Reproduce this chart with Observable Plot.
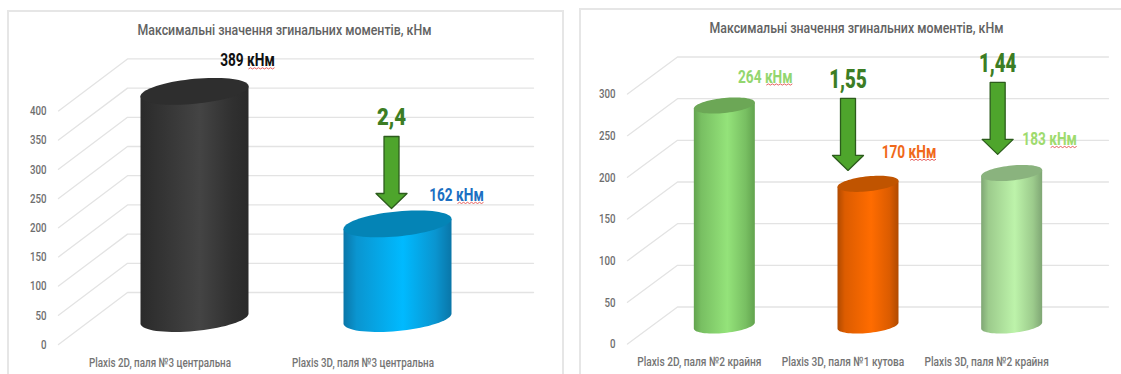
<!DOCTYPE html>
<html lang="uk">
<head>
<meta charset="utf-8">
<script src="https://cdn.jsdelivr.net/npm/d3@7"></script>
<script src="https://cdn.jsdelivr.net/npm/@observablehq/plot@0.6"></script>
<style>
  html, body { margin: 0; padding: 0; background: #fff; }
  #page { position: relative; width: 1121px; height: 374px; overflow: hidden; }
  .frame { position: absolute; box-sizing: border-box; border: 2px solid #e6e6e6; background: #fff; }
  .panel { position: absolute; top: 0; }
  .panel svg { display: block; overflow: visible; }
  .title { position: absolute; white-space: nowrap; transform-origin: 50% 50%;
           font: 500 15.5px Roboto, sans-serif; color: #626262; }
</style>
</head>
<body>
<div id="page"></div>
<script>
const chartTitle = "Максимальні значення згинальних моментів, кНм";
const unit = "кНм";

// Central pile comparison
const centralCategories = ["Plaxis 2D, паля №3 центральна", "Plaxis 3D, паля №3 центральна"];
const centralValues = [389, 162];
const centralTicks = [0, 50, 100, 150, 200, 250, 300, 350, 400];
const centralRatios = [null, "2,4"];

// Edge and corner pile comparison
const edgeCategories = ["Plaxis 2D, паля №2 крайня", "Plaxis 3D, паля №1 кутова", "Plaxis 3D, паля №2 крайня"];
const edgeValues = [264, 170, 183];
const edgeTicks = [0, 50, 100, 150, 200, 250, 300];
const edgeRatios = [null, "1,55", "1,44"];

const green = {fill: "#4ea52c", stroke: "#2c5c1c", text: "#3c7d24"};
const font = "Roboto, sans-serif";
const narrow = 0.72; // horizontal squeeze that gives the labels their condensed look
const page = document.getElementById("page");

// Tags a text mark with its own horizontal squeeze factor
const squeezed = k => (index, scales, vals, dims, ctx, next) => {
  const g = next(index, scales, vals, dims, ctx);
  g.setAttribute("data-k", k);
  return g;
};

function drawPanel(o) {
  const {categories, values, ticks, ratios} = o;
  const xPerPx = (o.xDomain[1] - o.xDomain[0]) / (o.xRange[1] - o.xRange[0]);
  const yPerPx = (o.yDomain[1] - o.yDomain[0]) / (o.yRange[0] - o.yRange[1]);
  const centre = i => i + 0.5 + o.depthX / 2;
  const base = o.depthY / 2;

  // Oblique floor and back wall lines, one polyline for each tick
  const grid = ticks.flatMap(t => [
    {t, x: 0, y: t},
    {t, x: o.depthX, y: t + o.depthY},
    {t, x: o.xDomain[1] + o.depthX, y: t + o.depthY}
  ]);

  const a = o.barHalfPx * xPerPx, s = o.skewPx * yPerPx, b = o.squashPx * yPerPx;
  const ellipse = (cx, cy, t) => ({x: cx + a * Math.cos(t), y: cy + s * Math.cos(t) + b * Math.sin(t)});
  const angles = d3.range(0, 73).map(k => k * Math.PI / 36);
  const lowerArc = d3.range(0, 37).map(k => Math.PI + k * Math.PI / 36);

  const defs = () => {
    const el = d3.create("svg:defs");
    o.colors.forEach((c, i) => {
      const g = el.append("linearGradient").attr("id", `${o.id}-body-${i}`).attr("x1", 0).attr("x2", 1).attr("y1", 0).attr("y2", 0);
      [[0, c.edge], [0.12, c.edge2], [0.55, c.mid], [0.85, c.edge2], [1, c.edge]].forEach(([p, col]) =>
        g.append("stop").attr("offset", p).attr("stop-color", col));
    });
    return el.node();
  };

  const barMarks = values.flatMap((v, i) => {
    const cx = centre(i);
    const bottom = lowerArc.map(t => ellipse(cx, base, t));
    const top = angles.map(t => ellipse(cx, base + v, t));
    const body = [ellipse(cx, base + v, Math.PI), ...bottom, ellipse(cx, base + v, 0)];
    return [
      Plot.line(body, {x: "x", y: "y", fill: `url(#${o.id}-body-${i})`, stroke: "none"}),
      Plot.line(top, {x: "x", y: "y", fill: o.colors[i].top, stroke: "none"})
    ];
  });

  // Down arrows pointing at the reduced bars, with the reduction factor above
  const arrowMarks = ratios.flatMap((r, i) => {
    if (!r) return [];
    const {dxPx, tipPx} = o.arrows[i];
    const ax = centre(i) + dxPx * xPerPx;
    const tip = base + values[i] + tipPx * yPerPx;
    const shaft = 7.5 * xPerPx, head = 15.5 * xPerPx;
    const pts = [
      [-shaft, 72], [shaft, 72], [shaft, 15], [head, 15], [0, 0], [-head, 15], [-shaft, 15], [-shaft, 72]
    ].map(([dx, dy]) => ({x: ax + dx, y: tip + dy * yPerPx}));
    return [
      Plot.line(pts, {x: "x", y: "y", fill: green.fill, stroke: green.stroke, strokeWidth: 1.3}),
      Plot.text([r], {
        x: ax, y: tip + 72 * yPerPx, dy: o.ratioDy, text: d => d, fill: green.text,
        fontSize: o.ratioSize, fontWeight: 900, fontFamily: font,
        render: squeezed(o.ratioK)
      })
    ];
  });

  const labelled = values.map((v, i) => ({v, i, ...o.labels[i]}));
  const svg = Plot.plot({
    width: o.width, height: 374, marginLeft: o.axisRight, marginRight: 0, marginTop: 0, marginBottom: 0,
    style: {background: "transparent", fontFamily: font},
    x: {type: "linear", domain: o.xDomain, range: o.xRange, axis: null},
    y: {type: "linear", domain: o.yDomain, range: o.yRange, label: null},
    marks: [
      defs,
      Plot.line(grid, {x: "x", y: "y", z: "t", stroke: "#e3e3e3", strokeWidth: 1.3}),
      Plot.axisY({ticks, tickSize: 0, tickPadding: 0, label: null, fontSize: o.tickSize, fontWeight: 500, fill: "#6e6e6e"}),
      ...barMarks,
      ...arrowMarks,
      Plot.text(categories, {
        x: (d, i) => i + 0.5, y: () => 0, dy: 18, text: d => d,
        fontSize: o.catSize, fontWeight: 500, fill: "#747474", fontFamily: font,
        render: squeezed(o.catK)
      }),
      Plot.text(labelled, {
        x: d => centre(d.i), y: d => base + d.v, text: d => `${d.v} ${unit}`,
        fontSize: 19, fontWeight: 700, fontFamily: font,
        fill: d => d.color,
        render(index, scales, vals, dims, ctx, next) {
          const g = next(index, scales, vals, dims, ctx);
          d3.select(g).selectAll("text").each(function(_, k) {
            const d = labelled[index[k]];
            const px = scales.x(centre(d.i)) + d.dx, py = scales.y(base + d.v) + d.dy;
            d3.select(this).attr("transform", `translate(${px},${py})`);
            // Thin wavy proofing underline below the unit
            const wave = d3.range(0, 14).map(n => `${n ? "L" : "M"}${n * 2},${n % 2 ? -0.6 : 0.6}`).join("");
            d3.select(g).append("path").attr("d", wave).attr("fill", "none")
              .attr("stroke", "#e2504f").attr("stroke-width", 0.9)
              .attr("transform", `translate(${px + 1},${py + 8})`);
          });
          return g;
        }
      })
    ]
  });
  const holder = document.createElement("div");
  holder.className = "panel";
  holder.style.left = o.left + "px";
  holder.appendChild(svg);
  page.appendChild(holder);
  svg.querySelectorAll("text").forEach(t => {
    const host = t.closest("[data-k]");
    const k = host ? +host.getAttribute("data-k") : narrow;
    const tr = t.getAttribute("transform") || "";
    t.setAttribute("transform", `${tr} scale(${k},1)`);
  });
}

function addFrame(left, top, width, height, cx, cy) {
  const f = document.createElement("div");
  f.className = "frame";
  Object.assign(f.style, {left: left + "px", top: top + "px", width: width + "px", height: height + "px"});
  page.appendChild(f);
  const t = document.createElement("div");
  t.className = "title";
  t.textContent = chartTitle;
  page.appendChild(t);
  const w = t.offsetWidth, h = t.offsetHeight;
  Object.assign(t.style, {left: cx - w / 2 + "px", top: cy - h / 2 + "px", transform: `scaleX(${294 / w})`});
}

addFrame(7, 10, 557, 380, 284, 30);
addFrame(579, 8, 560, 380, 856, 28);

drawPanel({
  id: "central", left: 0, width: 575, axisRight: 46,
  categories: centralCategories, values: centralValues, ticks: centralTicks, ratios: centralRatios,
  xDomain: [0, 2], xRange: [58, 464], yDomain: [0, 400], yRange: [344, 110.4],
  depthX: 0.34, depthY: 89, barHalfPx: 54, skewPx: 5, squashPx: 12.5,
  tickSize: 13.5, catSize: 13, catK: 0.756, ratioSize: 24, ratioK: 0.85, ratioDy: -19,
  arrows: {1: {dxPx: -6, tipPx: 15.4}},
  colors: [
    {edge: "#2a2a2a", edge2: "#303030", mid: "#444444", top: "#2e2e2e"},
    {edge: "#0a76a8", edge2: "#0a95d0", mid: "#00baff", top: "#0484b6"}
  ],
  labels: [
    {dx: 53, dy: -31, color: "#111111"},
    {dx: 59, dy: -29, color: "#1b6fc2"}
  ]
});

drawPanel({
  id: "edge", left: 570, width: 551, axisRight: 45,
  categories: edgeCategories, values: edgeValues, ticks: edgeTicks, ratios: edgeRatios,
  xDomain: [0, 3], xRange: [57, 488], yDomain: [0, 300], yRange: [343.5, 93.5],
  depthX: 0.348, depthY: 44.4, barHalfPx: 30.5, skewPx: 3, squashPx: 7.5,
  tickSize: 13.5, catSize: 13, catK: 0.78, ratioSize: 26, ratioK: 0.72, ratioDy: -19,
  arrows: {1: {dxPx: -20, tipPx: 13.4}, 2: {dxPx: -14, tipPx: 18.6}},
  colors: [
    {edge: "#62a34e", edge2: "#78bf62", mid: "#94e37a", top: "#6ca756"},
    {edge: "#b04a00", edge2: "#dc5c00", mid: "#ff6c00", top: "#c05400"},
    {edge: "#7fa674", edge2: "#9ccb8c", mid: "#bdf3aa", top: "#8ab37e"}
  ],
  labels: [
    {dx: 41, dy: -29, color: "#93d66f"},
    {dx: 41, dy: -32, color: "#f0691a"},
    {dx: 38, dy: -34, color: "#9edb6e"}
  ]
});
</script>
</body>
</html>
